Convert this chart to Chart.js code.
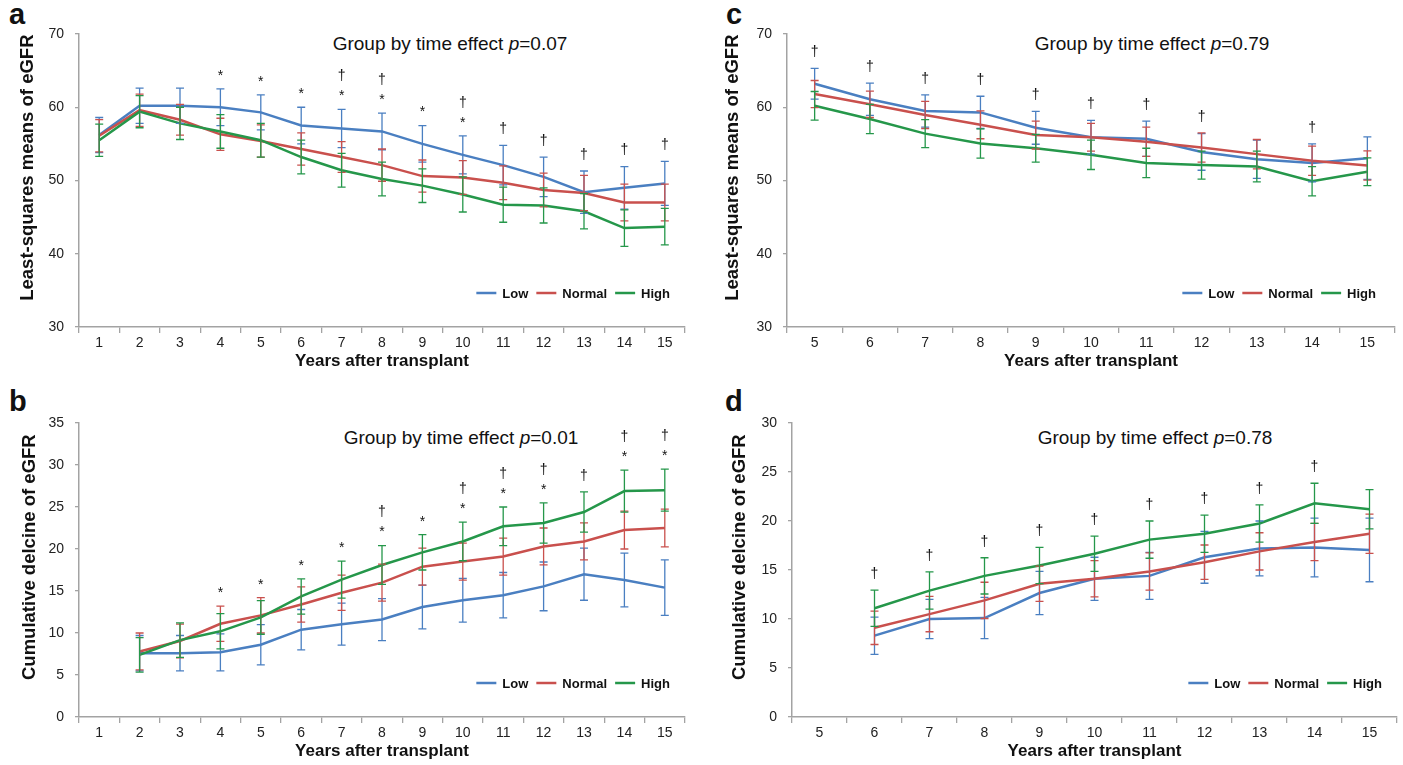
<!DOCTYPE html>
<html>
<head>
<meta charset="utf-8">
<title>eGFR by group</title>
<script src="https://cdn.jsdelivr.net/npm/chart.js@4.4.0/dist/chart.umd.min.js"></script>
<style>
  body { margin: 0; background: #fff; width: 1403px; height: 765px; position: relative; overflow: hidden;
         font-family: "Liberation Sans", Arial, sans-serif; color: #111; }
  canvas { position: absolute; }
  .letter { position: absolute; font-weight: bold; font-size: 29px; line-height: 29px; }
  .note { position: absolute; font-size: 19px; white-space: nowrap; transform: translate(-50%, -50%); }
</style>
</head>
<body>
<div class="letter" style="left:9px;top:0px">a</div>
<div class="letter" style="left:9px;top:387px">b</div>
<div class="letter" style="left:726px;top:0px">c</div>
<div class="letter" style="left:725px;top:387px">d</div>

<div class="note" style="left:450px;top:44px">Group by time effect <i>p</i>=0.07</div>
<div class="note" style="left:461px;top:438px">Group by time effect <i>p</i>=0.01</div>
<div class="note" style="left:1152px;top:44px">Group by time effect <i>p</i>=0.79</div>
<div class="note" style="left:1155px;top:438px">Group by time effect <i>p</i>=0.78</div>

<canvas id="chartA" width="700" height="382" style="left:0;top:0"></canvas>
<canvas id="chartB" width="700" height="380" style="left:0;top:385px"></canvas>
<canvas id="chartC" width="703" height="382" style="left:700px;top:0"></canvas>
<canvas id="chartD" width="703" height="380" style="left:700px;top:385px"></canvas>

<script>
// ---------- data ----------
const yearsA = ["1","2","3","4","5","6","7","8","9","10","11","12","13","14","15"];
const yearsC = ["5","6","7","8","9","10","11","12","13","14","15"];

// a: least-squares means of eGFR, years 1-15
const lowA     = [56.2, 60.2, 60.2, 60.0, 59.3, 57.5, 57.1, 56.7, 55.0, 53.5, 52.1, 50.5, 48.4, 49.0, 49.6];
const lowAErr  = [2.4, 2.4, 2.4, 2.5, 2.4, 2.5, 2.6, 2.5, 2.5, 2.6, 2.7, 2.7, 2.9, 2.9, 3.0];
const normA    = [56.1, 59.6, 58.3, 56.3, 55.4, 54.3, 53.2, 52.1, 50.6, 50.4, 49.7, 48.7, 48.3, 47.0, 47.0];
const normAErr = [2.2, 2.2, 2.1, 2.2, 2.2, 2.2, 2.1, 2.2, 2.2, 2.3, 2.3, 2.3, 2.4, 2.5, 2.5];
const highA    = [55.5, 59.4, 57.8, 56.7, 55.5, 53.2, 51.4, 50.2, 49.3, 48.1, 46.7, 46.6, 45.8, 43.5, 43.7];
const highAErr = [2.2, 2.2, 2.2, 2.3, 2.3, 2.3, 2.3, 2.3, 2.3, 2.4, 2.4, 2.4, 2.4, 2.5, 2.5];
const marksA   = ["", "", "", "*", "*", "*", "†*", "†*", "*", "†*", "†", "†", "†", "†", "†"];

// b: cumulative decline, years 1-15 (no value at year 1)
const lowB     = [null, 7.6, 7.6, 7.7, 8.6, 10.4, 11.05, 11.6, 13.1, 13.9, 14.5, 15.55, 17.0, 16.3, 15.4];
const lowBErr  = [null, 2.1, 2.1, 2.2, 2.4, 2.4, 2.5, 2.5, 2.6, 2.6, 2.7, 2.9, 3.1, 3.2, 3.3];
const normB    = [null, 7.8, 9.05, 11.1, 12.1, 13.4, 14.8, 16.0, 17.9, 18.5, 19.1, 20.3, 20.9, 22.25, 22.5];
const normBErr = [null, 2.2, 2.0, 2.1, 2.1, 2.1, 2.1, 2.2, 2.2, 2.2, 2.2, 2.2, 2.2, 2.25, 2.25];
const highB    = [null, 7.4, 9.15, 10.2, 11.85, 14.35, 16.35, 18.1, 19.6, 20.9, 22.7, 23.1, 24.4, 26.9, 27.0];
const highBErr = [null, 2.05, 2.05, 2.1, 2.0, 2.1, 2.2, 2.3, 2.1, 2.3, 2.3, 2.4, 2.4, 2.5, 2.5];
const marksB   = ["", "", "", "*", "*", "*", "*", "†*", "*", "†*", "†*", "†*", "†", "†*", "†*"];

// c: least-squares means of eGFR, years 5-15
const lowC     = [63.2, 61.1, 59.5, 59.3, 57.2, 55.9, 55.7, 53.9, 52.9, 52.4, 53.05];
const lowCErr  = [2.1, 2.2, 2.2, 2.2, 2.25, 2.3, 2.4, 2.5, 2.6, 2.6, 2.9];
const normC    = [61.8, 60.4, 58.95, 57.6, 56.2, 55.9, 55.3, 54.5, 53.6, 52.7, 52.05];
const normCErr = [1.85, 1.8, 1.85, 1.9, 1.9, 1.9, 2.0, 2.0, 2.0, 2.0, 2.0];
const highC    = [60.2, 58.4, 56.4, 55.05, 54.4, 53.5, 52.4, 52.1, 51.9, 49.9, 51.2];
const highCErr = [1.95, 2.0, 1.9, 2.0, 1.9, 2.0, 2.0, 1.9, 2.1, 2.0, 1.9];
const marksC   = ["†", "†", "†", "†", "†", "†", "†", "†", "", "†", ""];

// d: cumulative decline, years 5-15 (no value at year 5)
const lowD     = [null, 8.3, 10.0, 10.1, 12.65, 14.1, 14.4, 16.3, 17.2, 17.3, 17.05];
const lowDErr  = [null, 1.9, 2.0, 2.1, 2.2, 2.2, 2.4, 2.65, 2.8, 3.0, 3.25];
const normD    = [null, 9.1, 10.5, 11.9, 13.6, 14.1, 14.85, 15.8, 16.9, 17.85, 18.7];
const normDErr = [null, 1.7, 1.8, 1.85, 1.8, 1.85, 1.9, 1.75, 1.9, 1.9, 2.0];
const highD    = [null, 11.1, 12.9, 14.4, 15.45, 16.65, 18.1, 18.7, 19.75, 21.8, 21.2];
const highDErr = [null, 1.85, 1.9, 1.85, 1.85, 1.8, 1.9, 1.9, 1.9, 2.05, 2.0];
const marksD   = ["", "†", "†", "†", "†", "†", "†", "†", "†", "†", ""];

const FONT = '"Liberation Sans", Arial, sans-serif';
const LOW_COLOR = "#4a7fc1";
const NORMAL_COLOR = "#c9504d";
const HIGH_COLOR = "#25974a";
const AXIS_COLOR = "#a3a3a3";

// vertical error bars with caps, drawn from each dataset's errors array
const errorBars = {
  id: "errorBars",
  afterDatasetsDraw(chart) {
    const ctx = chart.ctx;
    const yScale = chart.scales.y;
    chart.data.datasets.forEach((ds, i) => {
      if (!ds.errors) return;
      const meta = chart.getDatasetMeta(i);
      ctx.save();
      ctx.strokeStyle = ds.borderColor;
      ctx.lineWidth = 1.3;
      meta.data.forEach((pt, j) => {
        const v = ds.data[j], e = ds.errors[j];
        if (v == null || e == null) return;
        const yTop = yScale.getPixelForValue(v + e);
        const yBot = yScale.getPixelForValue(v - e);
        ctx.beginPath();
        ctx.moveTo(pt.x, yTop); ctx.lineTo(pt.x, yBot);
        ctx.moveTo(pt.x - 4, yTop); ctx.lineTo(pt.x + 4, yTop);
        ctx.moveTo(pt.x - 4, yBot); ctx.lineTo(pt.x + 4, yBot);
        ctx.stroke();
      });
      ctx.restore();
    });
  }
};

// significance symbols ("*" lower, "†" above it) over the highest error bar
const sigMarks = {
  id: "sigMarks",
  afterDatasetsDraw(chart, args, opts) {
    const marks = opts.marks || [];
    const ctx = chart.ctx;
    const xScale = chart.scales.x, yScale = chart.scales.y;
    ctx.save();
    ctx.fillStyle = "#111";
    ctx.font = "14px " + FONT;
    ctx.textAlign = "center";
    ctx.textBaseline = "middle";
    marks.forEach((m, j) => {
      if (!m) return;
      let top = -Infinity;
      chart.data.datasets.forEach(ds => {
        const v = ds.data[j];
        if (v == null) return;
        top = Math.max(top, v + (ds.errors ? ds.errors[j] : 0));
      });
      const x = xScale.getPixelForValue(j);
      let y = yScale.getPixelForValue(top) - 16;
      if (m.includes("*")) { ctx.fillText("*", x, y + 3); y -= 17; }
      if (m.includes("†")) ctx.fillText("†", x, y);
    });
    ctx.restore();
  }
};

// legend drawn inside the plot, bottom right
const insideLegend = {
  id: "insideLegend",
  afterDraw(chart, args, opts) {
    const ctx = chart.ctx;
    const area = chart.chartArea;
    ctx.save();
    ctx.font = "bold 13px " + FONT;
    ctx.textBaseline = "middle";
    ctx.textAlign = "left";
    const items = chart.data.datasets.map(ds => ({ label: ds.label, color: ds.borderColor, w: ctx.measureText(ds.label).width }));
    const lineLen = 20, gap = 6, spacing = 8;
    const total = items.reduce((s, it) => s + lineLen + gap + it.w, 0) + spacing * (items.length - 1);
    let x = area.right - opts.right - total;
    const y = area.bottom - opts.bottom;
    items.forEach(it => {
      ctx.strokeStyle = it.color;
      ctx.lineWidth = 2.5;
      ctx.beginPath();
      ctx.moveTo(x, y); ctx.lineTo(x + lineLen, y);
      ctx.stroke();
      ctx.fillStyle = "#111";
      ctx.fillText(it.label, x + lineLen + gap, y + 1);
      x += lineLen + gap + it.w + spacing;
    });
    ctx.restore();
  }
};

function series(label, data, errors, color, order) {
  return {
    label, data, errors, order,
    borderColor: color,
    backgroundColor: color,
    borderWidth: 2.5,
    pointRadius: 0,
    tension: 0,
    fill: false
  };
}

function makePanel(id, box, labels, datasets, yRange, yTitle, marks) {
  const canvas = document.getElementById(id);
  return new Chart(canvas, {
    type: "line",
    data: { labels, datasets },
    plugins: [errorBars, sigMarks, insideLegend],
    options: {
      responsive: false,
      animation: false,
      devicePixelRatio: 1,
      layout: { padding: { top: box.top, right: box.right, left: 0, bottom: 0 } },
      plugins: {
        legend: { display: false },
        tooltip: { enabled: false },
        sigMarks: { marks },
        insideLegend: { right: box.legendRight, bottom: 34 }
      },
      scales: {
        x: {
          type: "category",
          offset: true,
          grid: { offset: true, drawOnChartArea: false, drawTicks: true, tickLength: 6, color: AXIS_COLOR, lineWidth: 1.3 },
          border: { color: AXIS_COLOR, width: 1.5 },
          ticks: { color: "#222", font: { family: FONT, size: 14 }, padding: 2, maxRotation: 0, autoSkip: false },
          title: { display: true, text: "Years after transplant", color: "#111",
                   font: { family: FONT, size: 17, weight: "bold" }, padding: { top: 0, bottom: box.xTitlePad } },
          afterFit(scale) { scale.height = box.xAxisH; }
        },
        y: {
          min: yRange[0], max: yRange[1],
          grid: { drawOnChartArea: false, drawTicks: true, tickLength: 4, color: AXIS_COLOR, lineWidth: 1.3 },
          border: { color: AXIS_COLOR, width: 1.5 },
          ticks: { stepSize: yRange[2], color: "#222", font: { family: FONT, size: 14 }, padding: 11 },
          // leading spaces nudge the rotated title upward, as in the original
          title: { display: true, text: "     " + yTitle, color: "#111",
                   font: { family: FONT, size: 18.5, weight: "bold" }, padding: { top: box.yTitlePad, bottom: 0 } },
          afterFit(scale) { scale.width = box.yAxisW; }
        }
      }
    }
  });
}

makePanel("chartA",
  { top: 34, right: 15, yAxisW: 79, xAxisH: 55, xTitlePad: 10, yTitlePad: 17, legendRight: 15 },
  yearsA,
  [series("Low", lowA, lowAErr, LOW_COLOR, 2),
   series("Normal", normA, normAErr, NORMAL_COLOR, 1),
   series("High", highA, highAErr, HIGH_COLOR, 0)],
  [30, 70, 10], "Least-squares means of eGFR", marksA);

makePanel("chartB",
  { top: 38, right: 15, yAxisW: 79, xAxisH: 48, xTitlePad: 3, yTitlePad: 19, legendRight: 15 },
  yearsA,
  [series("Low", lowB, lowBErr, LOW_COLOR, 2),
   series("Normal", normB, normBErr, NORMAL_COLOR, 1),
   series("High", highB, highBErr, HIGH_COLOR, 0)],
  [0, 35, 5], "Cumulative delcine of eGFR", marksB);

makePanel("chartC",
  { top: 34, right: 8, yAxisW: 87, xAxisH: 55, xTitlePad: 10, yTitlePad: 22, legendRight: 19 },
  yearsC,
  [series("Low", lowC, lowCErr, LOW_COLOR, 2),
   series("Normal", normC, normCErr, NORMAL_COLOR, 1),
   series("High", highC, highCErr, HIGH_COLOR, 0)],
  [30, 70, 10], "Least-squares means of eGFR", marksC);

makePanel("chartD",
  { top: 38, right: 6, yAxisW: 92, xAxisH: 48, xTitlePad: 3, yTitlePad: 29, legendRight: 15 },
  yearsC,
  [series("Low", lowD, lowDErr, LOW_COLOR, 2),
   series("Normal", normD, normDErr, NORMAL_COLOR, 1),
   series("High", highD, highDErr, HIGH_COLOR, 0)],
  [0, 30, 5], "Cumulative delcine of eGFR", marksD);
</script>
</body>
</html>
